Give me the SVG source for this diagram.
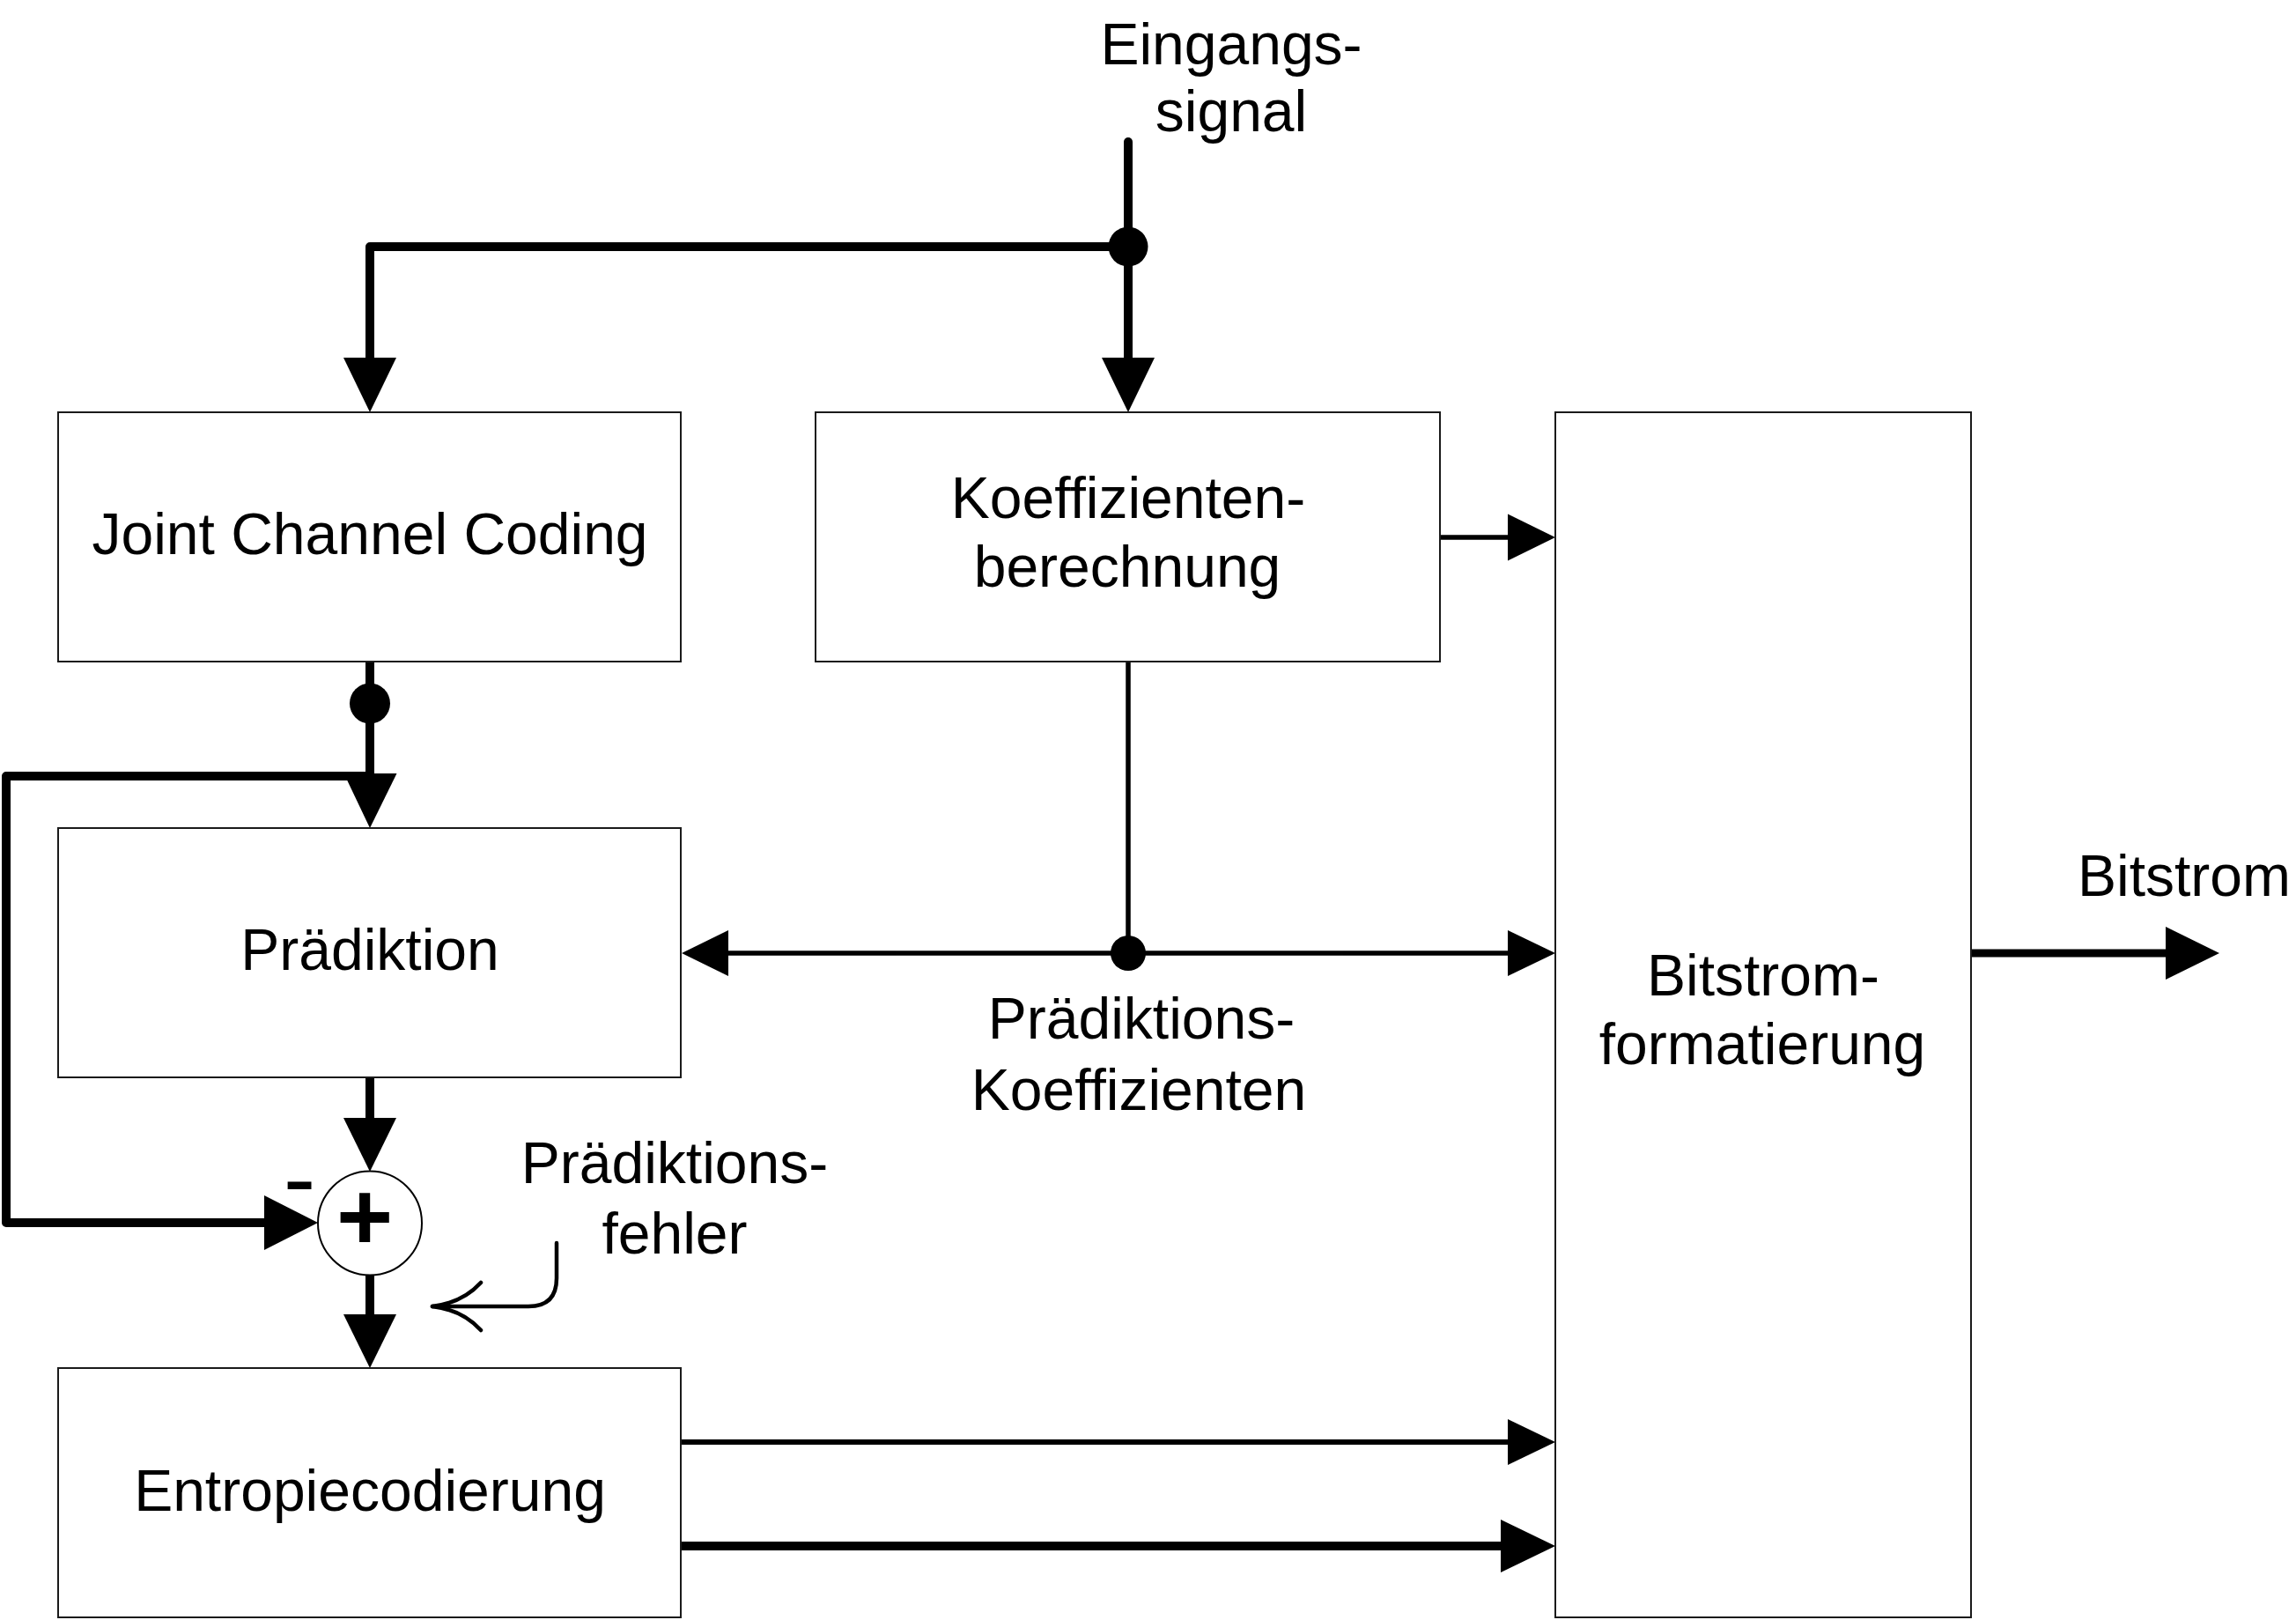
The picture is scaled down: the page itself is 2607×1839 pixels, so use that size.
<svg xmlns="http://www.w3.org/2000/svg" width="2607" height="1839" viewBox="0 0 2607 1839">
<style>
.box{fill:#fff;stroke:#1a1a1a;stroke-width:2}
.t{font-family:"Liberation Sans",Arial,sans-serif;font-size:66px;fill:#000;text-anchor:middle}
.thick{fill:none;stroke:#000;stroke-width:10;stroke-linecap:round;stroke-linejoin:round}
.mid{fill:none;stroke:#000;stroke-width:5.5;stroke-linecap:round;stroke-linejoin:round}
.thin{fill:none;stroke:#000;stroke-width:4.5;stroke-linecap:round;stroke-linejoin:round}
.ah{fill:#000;stroke:none}
.dot{fill:#000}
</style>
<rect width="2607" height="1839" fill="#fff"/>
<g id="connectors">
  <!-- input signal -->
  <path class="thick" d="M1281 161 L1281 408"/>
  <polygon class="ah" points="1251,406 1311,406 1281,468"/>
  <path class="thick" d="M1281 280 L420 280 L420 408"/>
  <polygon class="ah" points="390,406 450,406 420,468"/>
  <circle class="dot" cx="1281" cy="280" r="22.5"/>
  <!-- JCC to Praediktion -->
  <path class="thick" d="M420 747 L420 880"/>
  <circle class="dot" cx="420" cy="798.5" r="23"/>
  <!-- feedback loop -->
  <path class="thick" d="M420 881 L7 881 L7 1388 L302 1388"/>
  <polygon class="ah" points="420,940 390.5,878 450.5,878"/>
  <polygon class="ah" points="300,1357 300,1419 361,1388"/>
  <!-- Praediktion to sum -->
  <path class="thick" d="M420 1223 L420 1271"/>
  <polygon class="ah" points="390,1269 450,1269 420,1330"/>
  <!-- sum to Entropie -->
  <path class="thick" d="M420 1446 L420 1494"/>
  <polygon class="ah" points="390,1492 450,1492 420,1553"/>
  <!-- Koeff to Bitstrom -->
  <path class="mid" d="M1633 610 L1714 610"/>
  <polygon class="ah" points="1712,583.5 1712,636.5 1766,610"/>
  <!-- Praediktionskoeffizienten -->
  <path class="mid" d="M1281 751 L1281 1082"/>
  <path class="mid" d="M826 1082 L1714 1082"/>
  <polygon class="ah" points="827,1056 827,1108 774,1082"/>
  <polygon class="ah" points="1712,1056 1712,1108 1766,1082"/>
  <circle class="dot" cx="1281" cy="1082" r="20"/>
  <!-- Entropie to Bitstrom -->
  <path fill="none" stroke="#000" stroke-width="6" stroke-linecap="round" d="M773 1637 L1714 1637"/>
  <polygon class="ah" points="1712,1611 1712,1663 1766,1637"/>
  <path class="thick" d="M773 1755 L1706 1755"/>
  <polygon class="ah" points="1704,1725 1704,1785 1766,1755"/>
  <!-- output -->
  <path fill="none" stroke="#000" stroke-width="9" stroke-linecap="round" d="M2234 1082 L2461 1082"/>
  <polygon class="ah" points="2459,1052 2459,1112 2520,1082"/>
  <!-- Praediktionsfehler pointer -->
  <path class="thin" d="M632 1411 L632 1451 Q632 1483 600 1483 L491 1483"/>
  <path class="thin" d="M491 1483 Q525 1479 546 1456"/>
  <path class="thin" d="M491 1483 Q525 1487 546 1510"/>
</g>
<g id="input-label">
  <text class="t" x="1398" y="73">Eingangs-</text>
  <text class="t" x="1398" y="149">signal</text>
</g>
<g id="jcc">
  <rect class="box" x="66" y="468" width="707" height="283"/>
  <text class="t" x="420" y="629">Joint Channel Coding</text>
</g>
<g id="koeff">
  <rect class="box" x="926" y="468" width="709" height="283"/>
  <text class="t" x="1281" y="588">Koeffizienten-</text>
  <text class="t" x="1280" y="666">berechnung</text>
</g>
<g id="bitstromformatierung">
  <rect class="box" x="1766" y="468" width="472" height="1368"/>
  <text class="t" x="2002" y="1130">Bitstrom-</text>
  <text class="t" x="2001" y="1208">formatierung</text>
</g>
<g id="praediktion">
  <rect class="box" x="66" y="940" width="707" height="283"/>
  <text class="t" x="420" y="1101">Prädiktion</text>
</g>
<g id="entropie">
  <rect class="box" x="66" y="1553" width="707" height="283"/>
  <text class="t" x="420" y="1715">Entropiecodierung</text>
</g>
<g id="summe">
  <circle cx="420" cy="1388.5" r="59" fill="#fff" stroke="#000" stroke-width="2"/>
  <text x="414" y="1419" font-family="Liberation Sans, Arial, sans-serif" font-size="110" font-weight="bold" text-anchor="middle">+</text>
  <text x="340" y="1375" font-family="Liberation Sans, Arial, sans-serif" font-size="110" text-anchor="middle">-</text>
</g>
<g id="labels">
  <text class="t" x="1296" y="1179">Prädiktions-</text>
  <text class="t" x="1293" y="1260">Koeffizienten</text>
  <text class="t" x="766" y="1343">Prädiktions-</text>
  <text class="t" x="766" y="1423">fehler</text>
  <text class="t" x="2359" y="1017" style="text-anchor:start">Bitstrom</text>
</g>
</svg>
